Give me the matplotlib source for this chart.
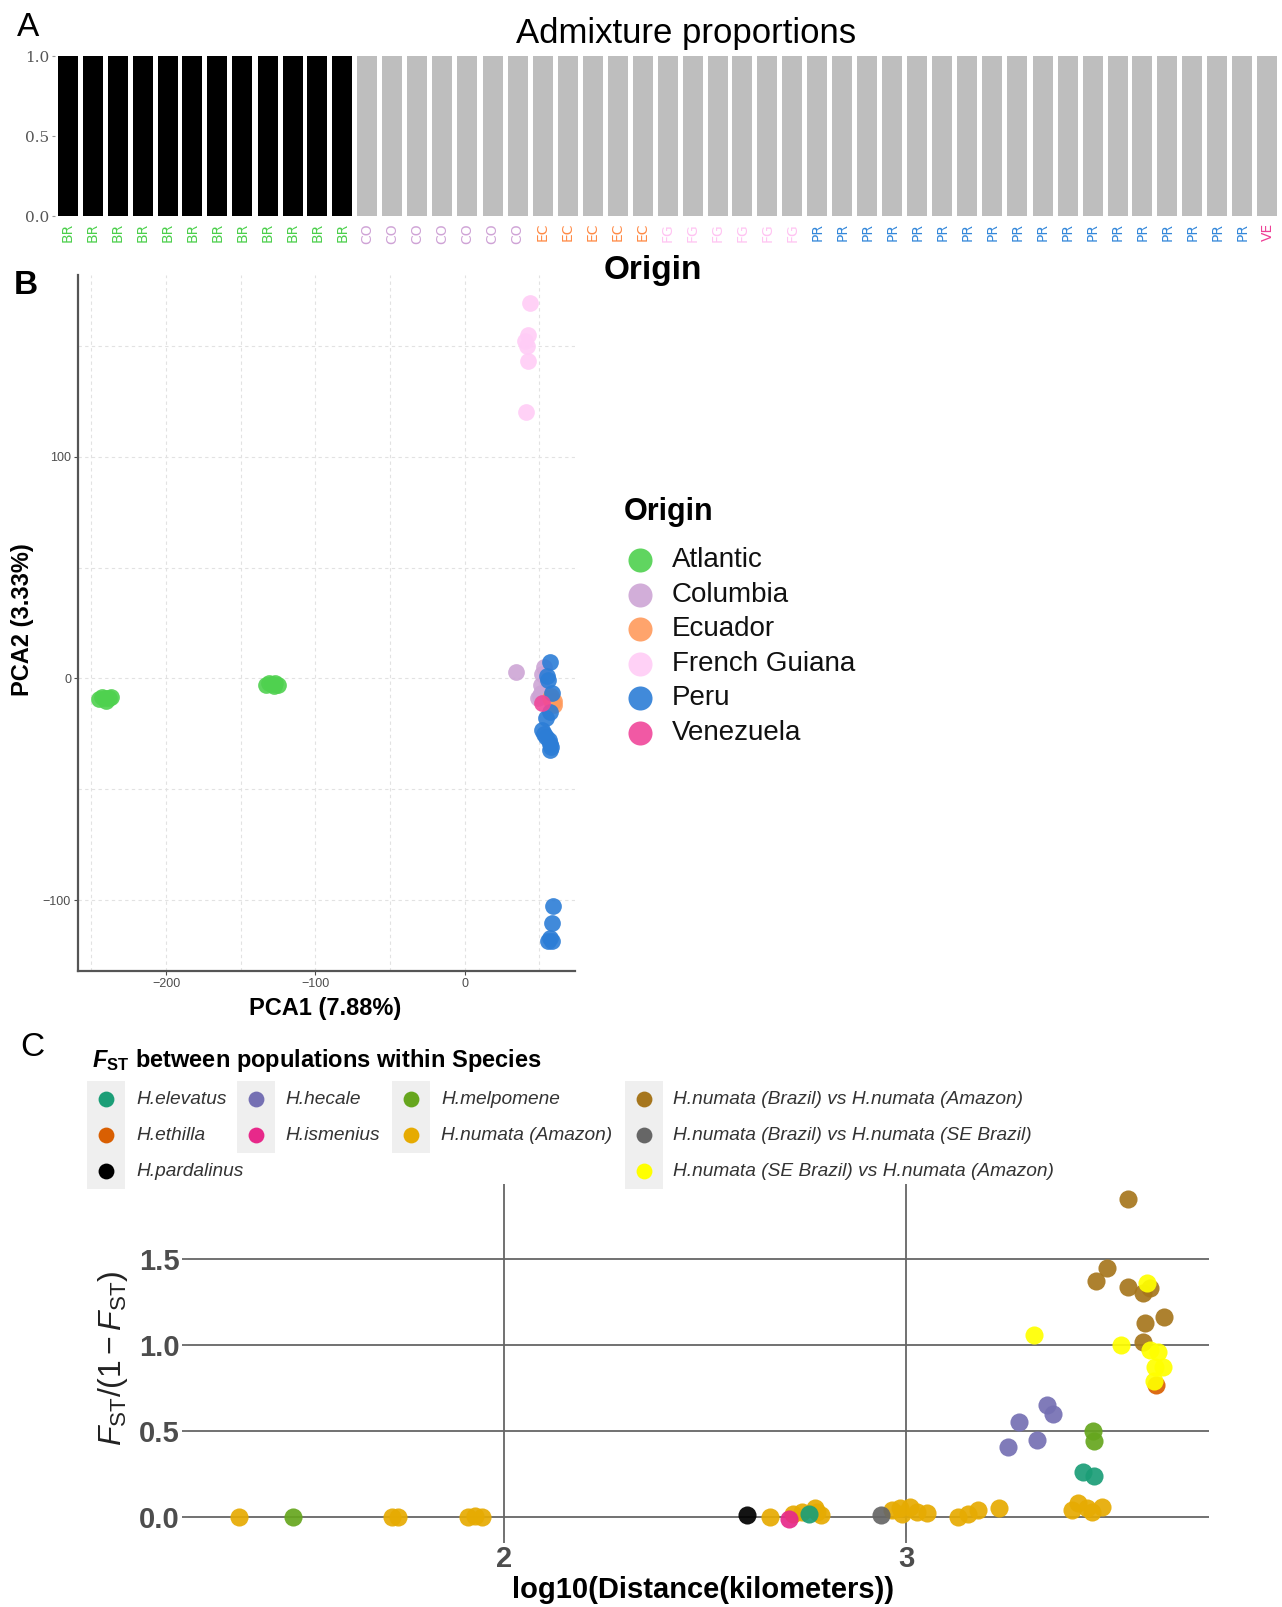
import matplotlib
matplotlib.use('Agg')
import matplotlib.pyplot as plt
import matplotlib.patches as mpatches

plt.rcParams['font.family'] = ['Liberation Sans', 'DejaVu Sans']
plt.rcParams['mathtext.fontset'] = 'custom'
plt.rcParams['mathtext.rm'] = 'Liberation Sans'
plt.rcParams['mathtext.it'] = 'Liberation Sans:italic'
plt.rcParams['mathtext.bf'] = 'Liberation Sans:bold'
plt.rcParams['mathtext.bfit'] = 'Liberation Sans:italic:bold'

W, H = 1282, 1607

# ---- Panel A: admixture proportions (K=2) ----
sample_origin = ['BR', 'BR', 'BR', 'BR', 'BR', 'BR', 'BR', 'BR', 'BR', 'BR', 'BR', 'BR',
                 'CO', 'CO', 'CO', 'CO', 'CO', 'CO', 'CO',
                 'EC', 'EC', 'EC', 'EC', 'EC',
                 'FG', 'FG', 'FG', 'FG', 'FG', 'FG',
                 'PR', 'PR', 'PR', 'PR', 'PR', 'PR', 'PR', 'PR', 'PR',
                 'PR', 'PR', 'PR', 'PR', 'PR', 'PR', 'PR', 'PR', 'PR',
                 'VE']
q_cluster1 = [1.0, 1.0, 1.0, 1.0, 1.0, 1.0, 1.0, 1.0, 1.0, 1.0, 1.0, 1.0,
              0.0, 0.0, 0.0, 0.0, 0.0, 0.0, 0.0,
              0.0, 0.0, 0.0, 0.0, 0.0,
              0.0, 0.0, 0.0, 0.0, 0.0, 0.0,
              0.0, 0.0, 0.0, 0.0, 0.0, 0.0, 0.0, 0.0, 0.0,
              0.0, 0.0, 0.0, 0.0, 0.0, 0.0, 0.0, 0.0, 0.0,
              0.0]
q_cluster2 = [0.0, 0.0, 0.0, 0.0, 0.0, 0.0, 0.0, 0.0, 0.0, 0.0, 0.0, 0.0,
              1.0, 1.0, 1.0, 1.0, 1.0, 1.0, 1.0,
              1.0, 1.0, 1.0, 1.0, 1.0,
              1.0, 1.0, 1.0, 1.0, 1.0, 1.0,
              1.0, 1.0, 1.0, 1.0, 1.0, 1.0, 1.0, 1.0, 1.0,
              1.0, 1.0, 1.0, 1.0, 1.0, 1.0, 1.0, 1.0, 1.0,
              1.0]
label_colors = {'BR': '#4CCF4C', 'CO': '#CFA3D6', 'EC': '#FF8A45',
                'FG': '#FFC4F2', 'PR': '#3387DA', 'VE': '#EE3F96'}

# ---- Panel B: PCA ----
origins = ['Atlantic', 'Columbia', 'Ecuador', 'French Guiana', 'Peru', 'Venezuela']
origin_colors = ['#4FD14F', '#CDA5D5', '#FF9A5C', '#FFCCF6', '#2C7DD6', '#F0479A']
pca1 = {
    'Atlantic': [-245, -243, -241, -240, -238, -237, -133, -131, -129, -128, -127, -125],
    'Columbia': [34.2, 53.5, 50.9, 51.5, 52, 49.5, 50.8],
    'Ecuador': [59.8, 58.5, 57, 60, 58],
    'French Guiana': [43.8, 42.2, 40.6, 42.6, 41.3, 41.8],
    'Peru': [57.4, 56.1, 55.5, 58.6, 54.8, 57, 52.2, 53.5, 54.8, 56.5, 57.4, 57.4, 58,
             59.4, 58.6, 58.6, 56, 57.5],
    'Venezuela': [52.2],
}
pca2 = {
    'Atlantic': [-9.5, -8.5, -9, -10, -9, -8.5, -3, -2, -2.5, -3.5, -2, -3],
    'Columbia': [2.7, 5.3, -6.7, -3, 2, -9, -8],
    'Ecuador': [-10, -11.1, -9, -12, -8],
    'French Guiana': [169.3, 155, 152.2, 143, 120.1, 150],
    'Peru': [7.5, -0.9, 1, -6.7, -17.7, -15, -23.1, -25, -26.5, -28, -29.7, -32.3, -31,
             -102.5, -110.2, -118.3, -118.3, -117],
    'Venezuela': [-11.1],
}

# ---- Panel C: isolation by distance ----
groups_c = ['H.elevatus', 'H.ethilla', 'H.pardalinus', 'H.hecale', 'H.ismenius',
            'H.melpomene', 'H.numata (Amazon)',
            'H.numata (Brazil) vs H.numata (Amazon)',
            'H.numata (Brazil) vs H.numata (SE Brazil)',
            'H.numata (SE Brazil) vs H.numata (Amazon)']
group_colors = {'H.elevatus': '#1B9E77', 'H.ethilla': '#D95F02', 'H.pardalinus': '#000000',
                'H.hecale': '#7570B3', 'H.ismenius': '#E7298A', 'H.melpomene': '#66A61E',
                'H.numata (Amazon)': '#E6AB02',
                'H.numata (Brazil) vs H.numata (Amazon)': '#A6761D',
                'H.numata (Brazil) vs H.numata (SE Brazil)': '#666666',
                'H.numata (SE Brazil) vs H.numata (Amazon)': '#FFFF00'}
log_dist = {
    'H.numata (Amazon)': [1.341, 1.721, 1.736, 1.91, 1.928, 1.945, 2.662, 2.719, 2.741, 2.774,
                          2.788, 2.78, 2.965, 2.985, 3.01, 3.027, 3.052, 2.99, 3.129, 3.154,
                          3.179, 3.231, 3.413, 3.428, 3.463, 3.488, 3.45],
    'H.melpomene': [1.475, 3.465, 3.468],
    'H.hecale': [3.254, 3.281, 3.326, 3.351, 3.366],
    'H.elevatus': [2.759, 3.44, 3.468],
    'H.ethilla': [3.622],
    'H.numata (Brazil) vs H.numata (Amazon)': [3.552, 3.5, 3.473, 3.552, 3.59, 3.607, 3.594,
                                               3.642, 3.589],
    'H.numata (SE Brazil) vs H.numata (Amazon)': [3.6, 3.318, 3.535, 3.607, 3.627, 3.619,
                                                  3.64, 3.617],
    'H.numata (Brazil) vs H.numata (SE Brazil)': [2.938],
    'H.ismenius': [2.709],
    'H.pardalinus': [2.604],
}
fst_lin = {
    'H.numata (Amazon)': [0.0, 0.0, 0.0, 0.0, 0.005, 0.0, 0.0, 0.02, 0.03, 0.05,
                          0.01, 0.03, 0.04, 0.05, 0.06, 0.03, 0.025, 0.02, 0.0, 0.02,
                          0.04, 0.05, 0.04, 0.08, 0.03, 0.06, 0.05],
    'H.melpomene': [0.0, 0.50, 0.44],
    'H.hecale': [0.41, 0.55, 0.45, 0.65, 0.60],
    'H.elevatus': [0.02, 0.26, 0.24],
    'H.ethilla': [0.77],
    'H.numata (Brazil) vs H.numata (Amazon)': [1.85, 1.45, 1.37, 1.34, 1.30, 1.33, 1.13,
                                               1.16, 1.02],
    'H.numata (SE Brazil) vs H.numata (Amazon)': [1.36, 1.06, 1.0, 0.97, 0.96, 0.87,
                                                  0.87, 0.79],
    'H.numata (Brazil) vs H.numata (SE Brazil)': [0.01],
    'H.ismenius': [-0.01],
    'H.pardalinus': [0.01],
}


def fx(px):
    return px / W


def fy(py):
    return 1 - py / H


fig = plt.figure(figsize=(W / 100, H / 100), dpi=100)

# Panel A
ax_a = fig.add_axes([fx(55), fy(216), (1280 - 55) / W, (216 - 56) / H])
xs = list(range(len(sample_origin)))
ax_a.bar(xs, q_cluster1, width=0.8, color='black')
ax_a.bar(xs, q_cluster2, width=0.8, bottom=q_cluster1, color='#BEBEBE')
ax_a.set_xlim(-0.5, len(xs) - 0.5)
ax_a.set_ylim(0, 1)
ax_a.set_yticks([0, 0.5, 1.0])
ax_a.set_yticklabels(['0.0', '0.5', '1.0'], family='DejaVu Serif', fontsize=11, color='#555555')
ax_a.set_xticks(xs)
ax_a.set_xticklabels(sample_origin, rotation=90, fontsize=10, family='DejaVu Sans')
for lab, o in zip(ax_a.get_xticklabels(), sample_origin):
    lab.set_color(label_colors[o])
ax_a.tick_params(axis='y', length=2, color='#999999', pad=2)
ax_a.tick_params(axis='x', length=0, pad=5)
for s in ax_a.spines.values():
    s.set_visible(False)

# Panel B
ax_b = fig.add_axes([fx(78), fy(971), (575 - 78) / W, (971 - 275) / H])
for o, c in zip(origins, origin_colors):
    ax_b.scatter(pca1[o], pca2[o], s=145, color=c, alpha=0.9, linewidths=0, zorder=3)
ax_b.set_xlim(-259, 74)
ax_b.set_ylim(-132, 182)
ax_b.set_xticks([-200, -100, 0])
ax_b.set_yticks([-100, 0, 100])
ax_b.set_xticks([-250, -150, -50, 50], minor=True)
ax_b.set_yticks([-50, 50, 150], minor=True)
ax_b.grid(which='both', color='#E2E2E2', linestyle=(0, (3, 3)), linewidth=0.8)
ax_b.set_axisbelow(True)
ax_b.tick_params(which='major', labelsize=9, colors='#4D4D4D', length=3, pad=2)
ax_b.tick_params(which='minor', length=0)
for side in ['top', 'right']:
    ax_b.spines[side].set_visible(False)
for side in ['left', 'bottom']:
    ax_b.spines[side].set_color('#555555')
    ax_b.spines[side].set_linewidth(1.6)

# Panel C
ax_c = fig.add_axes([fx(188), fy(1537), (1209 - 188) / W, (1537 - 1184) / H])
for g in ['H.numata (Amazon)', 'H.melpomene', 'H.hecale', 'H.elevatus', 'H.ethilla',
          'H.numata (Brazil) vs H.numata (Amazon)', 'H.numata (SE Brazil) vs H.numata (Amazon)',
          'H.numata (Brazil) vs H.numata (SE Brazil)', 'H.ismenius', 'H.pardalinus']:
    ax_c.scatter(log_dist[g], fst_lin[g], s=170, color=group_colors[g], alpha=0.92,
                 linewidths=0, zorder=3)
ax_c.set_xlim(1.214, 3.754)
ax_c.set_ylim(-0.116, 1.936)
ax_c.set_xticks([2, 3])
ax_c.set_yticks([0.0, 0.5, 1.0, 1.5])
ax_c.set_yticklabels(['0.0', '0.5', '1.0', '1.5'])
ax_c.grid(True, color='#666666', linewidth=1.3)
ax_c.set_axisbelow(True)
ax_c.tick_params(labelsize=21, colors='#4D4D4D', length=4, pad=2, width=1.1)
for lab in ax_c.get_xticklabels() + ax_c.get_yticklabels():
    lab.set_fontweight('bold')
for s in ax_c.spines.values():
    s.set_visible(False)

# overlay for texts and legends
ax_o = fig.add_axes([0, 0, 1, 1], zorder=10)
ax_o.set_xlim(0, W)
ax_o.set_ylim(H, 0)
ax_o.axis('off')
ax_o.patch.set_alpha(0)

ax_o.text(28, 28, 'A', fontsize=24, ha='center', va='center')
ax_o.text(26, 286, 'B', fontsize=24, fontweight='bold', ha='center', va='center')
ax_o.text(32, 1048, 'C', fontsize=24, ha='center', va='center')
ax_o.text(686, 34, 'Admixture proportions', fontsize=25, ha='center', va='center')
ax_o.text(653, 270, 'Origin', fontsize=24, fontweight='bold', ha='center', va='center')
ax_o.text(325, 1009, 'PCA1 (7.88%)', fontsize=17, fontweight='bold', ha='center', va='center')
ax_o.text(23, 620, 'PCA2 (3.33%)', fontsize=17, fontweight='bold', ha='center', va='center',
          rotation=90)
ax_o.text(703, 1590, 'log10(Distance(kilometers))', fontsize=21, fontweight='bold',
          ha='center', va='center')
ax_o.text(113, 1358, r'$F_{\mathrm{ST}}/(1-F_{\mathrm{ST}})$', fontsize=23, ha='center',
          va='center', rotation=90, color='#222222')
ax_o.text(92, 1061, r'$\mathbfit{F}_{\mathbf{ST}}$ between populations within Species',
          fontsize=17, fontweight='bold', ha='left', va='center')

# legend for panel B
ax_o.text(624, 512, 'Origin', fontsize=22, fontweight='bold', ha='left', va='center')
leg_b_y = [560, 594.5, 629, 664, 698, 733]
for o, c, yy in zip(origins, origin_colors, leg_b_y):
    ax_o.scatter([640], [yy], s=300, color=c, alpha=0.9, linewidths=0)
    ax_o.text(672, yy, o, fontsize=20, ha='left', va='center', color='#111111')

# legend grid for panel C: (column, row) of each group
leg_pos = {'H.elevatus': (0, 0), 'H.ethilla': (0, 1), 'H.pardalinus': (0, 2),
           'H.hecale': (1, 0), 'H.ismenius': (1, 1),
           'H.melpomene': (2, 0), 'H.numata (Amazon)': (2, 1),
           'H.numata (Brazil) vs H.numata (Amazon)': (3, 0),
           'H.numata (Brazil) vs H.numata (SE Brazil)': (3, 1),
           'H.numata (SE Brazil) vs H.numata (Amazon)': (3, 2)}
key_x = [106, 256, 411, 644]
text_x = [136, 285, 441, 673]
row_y = [1099, 1135, 1171]
row_h = 36
for g in groups_c:
    c, r = leg_pos[g]
    ax_o.add_patch(mpatches.Rectangle((key_x[c] - 19, row_y[r] - row_h / 2), 38, row_h,
                                      facecolor='#EFEFEF', edgecolor='none', zorder=1))
    ax_o.scatter([key_x[c]], [row_y[r]], s=130, color=group_colors[g], linewidths=0, zorder=2)
    ax_o.text(text_x[c], row_y[r], g, fontsize=13.8, style='italic', color='#333333',
              ha='left', va='center', zorder=2)

fig.savefig('out.png', dpi=100)
